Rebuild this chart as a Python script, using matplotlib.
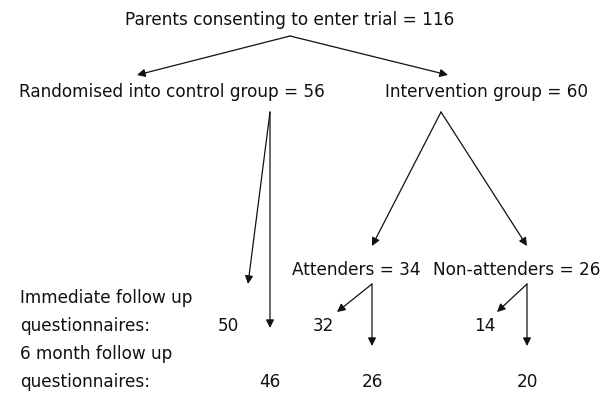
import matplotlib.pyplot as plt

# counts from the trial flow diagram
total = 116
control = 56
intervention = 60
attenders = 34
non_attenders = 26
immediate = [50, 32, 14]      # control, attenders, non-attenders
six_month = [46, 26, 20]

fig = plt.figure(figsize=(6.13, 4.03), dpi=100)
ax = fig.add_axes([0, 0, 1, 1])
ax.set_xlim(0, 613)
ax.set_ylim(403, 0)
ax.axis('off')

fs = 12.2
col = '#111111'

def txt(x, y, s, ha='center'):
    ax.text(x, y, s, ha=ha, va='center', fontsize=fs, color=col)

def arrow(x0, y0, x1, y1):
    ax.annotate('', xy=(x1, y1), xytext=(x0, y0),
                arrowprops=dict(arrowstyle='-|>', lw=0.9, color=col,
                                mutation_scale=12, shrinkA=0, shrinkB=0))

txt(290, 20, f"Parents consenting to enter trial = {total}")
arrow(290, 36, 137, 75)
arrow(290, 36, 448, 75)

txt(172, 92, f"Randomised into control group = {control}")
txt(487, 92, f"Intervention group = {intervention}")

# control branch
arrow(270, 112, 248, 284)
arrow(270, 112, 270, 328)

# intervention branch
arrow(441, 112, 372, 246)
arrow(441, 112, 527, 246)

txt(356, 270, f"Attenders = {attenders}")
txt(517, 270, f"Non-attenders = {non_attenders}")

arrow(372, 284, 337, 312)
arrow(372, 284, 372, 346)
arrow(527, 284, 497, 312)
arrow(527, 284, 527, 346)

txt(20, 298, "Immediate follow up", ha='left')
txt(20, 326, "questionnaires:", ha='left')
txt(20, 354, "6 month follow up", ha='left')
txt(20, 382, "questionnaires:", ha='left')

for x, v in zip([228, 323, 485], immediate):
    txt(x, 326, str(v))
for x, v in zip([270, 372, 527], six_month):
    txt(x, 382, str(v))

fig.savefig('out.png', dpi=100)
